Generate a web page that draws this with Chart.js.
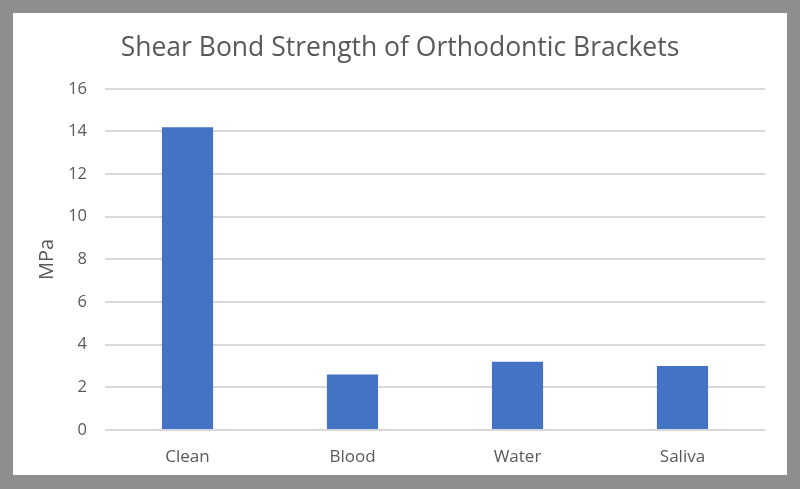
<!DOCTYPE html>
<html>
<head>
<meta charset="utf-8">
<script src="https://cdn.jsdelivr.net/npm/chart.js@4"></script>
<style>
  html, body { margin: 0; padding: 0; background: #8e8e8e; width: 800px; height: 489px; overflow: hidden; }
  .frame { position: absolute; left: 13px; top: 13px; width: 774px; height: 462px; background: #ffffff; }
</style>
</head>
<body>
<div class="frame"><canvas id="chartBarStrength"></canvas></div>
<script>
const categories = ['Clean', 'Blood', 'Water', 'Saliva'];
const strengthValues = [14.2, 2.6, 3.2, 3.0];
const yTicks = [0, 2, 4, 6, 8, 10, 12, 14, 16];

const textColor = '#595959';
const gridColor = '#d9d9d9';
const fontFamily = "'Open Sans', 'Liberation Sans', sans-serif";

let barChart = document.getElementById('chartBarStrength').getContext('2d');
new Chart(barChart, {
  type: 'bar',
  data: {
    labels: categories,
    datasets: [
      {
        label: 'MPa',
        data: strengthValues,
        backgroundColor: '#4472c4',
        categoryPercentage: 1,
        barPercentage: 0.31
      }
    ]
  },
  options: {
    responsive: true,
    maintainAspectRatio: false,
    animation: false,
    layout: { padding: 0 },
    plugins: {
      legend: { display: false },
      tooltip: { enabled: false },
      title: {
        display: true,
        text: 'Shear Bond Strength of Orthodontic Brackets',
        color: textColor,
        font: { family: fontFamily, size: 26.5, weight: 'normal' },
        padding: { top: 20, bottom: 24 }
      }
    },
    scales: {
      x: {
        grid: { display: false },
        border: { display: false },
        ticks: {
          color: textColor,
          padding: 9,
          font: { family: fontFamily, size: 17 }
        },
        afterFit: scale => { scale.height = 45; }
      },
      y: {
        min: 0,
        max: 16,
        afterBuildTicks: scale => { scale.ticks = yTicks.map(v => ({ value: v })); },
        grid: { color: gridColor, lineWidth: 2, drawTicks: false },
        border: { display: false },
        ticks: {
          color: textColor,
          padding: 18,
          font: { family: fontFamily, size: 16.5 }
        },
        title: {
          display: true,
          text: 'MPa',
          color: textColor,
          font: { family: fontFamily, size: 20 },
          padding: { top: 22, bottom: 0 }
        },
        afterFit: scale => { scale.width = 92; }
      },
      // empty right-hand axis that only reserves the margin
      yRight: {
        position: 'right',
        grid: { display: false },
        border: { display: false },
        ticks: { display: false },
        afterFit: scale => { scale.width = 22; }
      }
    }
  }
});
</script>
</body>
</html>
